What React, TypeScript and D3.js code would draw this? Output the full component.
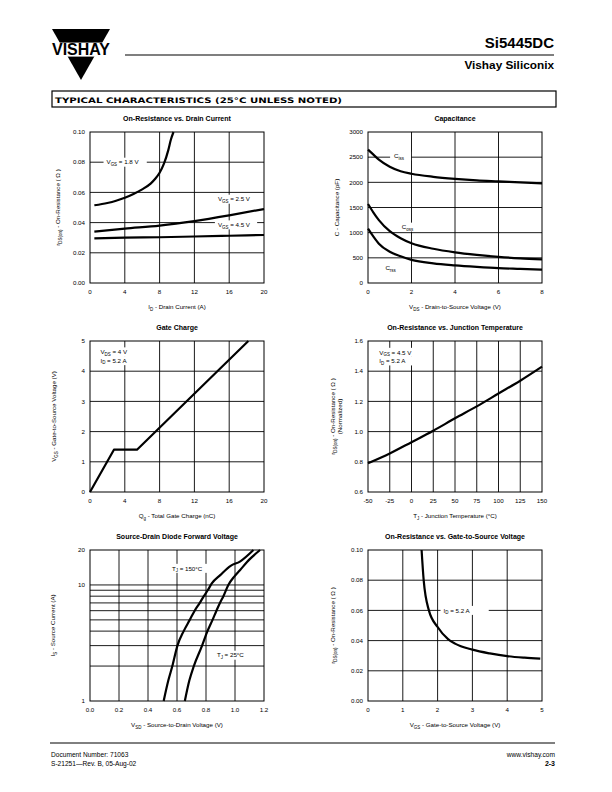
import React from "react";
import * as d3 from "d3";

const FONT = "'Liberation Sans', Arial, Helvetica, sans-serif";

type Pt = [number, number];
type Seg = [string, boolean?];

// ---------- Chart 1: On-Resistance vs. Drain Current ----------
const c1XTicks = [0, 4, 8, 12, 16, 20];
const c1YTicks = [0, 0.02, 0.04, 0.06, 0.08, 0.1];
const c1Vgs18: Pt[] = [[0.5, 0.0515], [2, 0.053], [3, 0.0545], [4, 0.0565], [5, 0.059], [6, 0.062], [7, 0.066], [7.5, 0.069], [8, 0.073], [8.5, 0.079], [9, 0.088], [9.3, 0.095], [9.6, 0.1]];
const c1Vgs25: Pt[] = [[0.5, 0.034], [4, 0.036], [8, 0.038], [12, 0.041], [16, 0.0448], [20, 0.049]];
const c1Vgs45: Pt[] = [[0.5, 0.0295], [4, 0.03], [8, 0.0303], [12, 0.0308], [16, 0.0313], [20, 0.0318]];

// ---------- Chart 2: Capacitance ----------
const c2XTicks = [0, 2, 4, 6, 8];
const c2YTicks = [0, 500, 1000, 1500, 2000, 2500, 3000];
const c2Ciss: Pt[] = [[0, 2650], [0.25, 2550], [0.5, 2450], [1, 2310], [1.5, 2220], [2, 2170], [3, 2110], [4, 2070], [5, 2040], [6, 2020], [7, 2000], [8, 1980]];
const c2Coss: Pt[] = [[0, 1570], [0.25, 1400], [0.5, 1250], [1, 1030], [1.5, 890], [2, 790], [3, 680], [4, 610], [5, 560], [6, 520], [7, 490], [8, 470]];
const c2Crss: Pt[] = [[0, 1080], [0.25, 920], [0.5, 780], [1, 620], [1.5, 530], [2, 460], [3, 390], [4, 350], [5, 320], [6, 295], [7, 280], [8, 265]];

// ---------- Chart 3: Gate Charge ----------
const c3XTicks = [0, 4, 8, 12, 16, 20];
const c3YTicks = [0, 1, 2, 3, 4, 5];
const c3Vgs: Pt[] = [[0, 0], [2.75, 1.4], [5.4, 1.4], [18.2, 5]];

// ---------- Chart 4: On-Resistance vs. Junction Temperature ----------
const c4XTicks = [-50, -25, 0, 25, 50, 75, 100, 125, 150];
const c4YTicks = [0.6, 0.8, 1.0, 1.2, 1.4, 1.6];
const c4Rds: Pt[] = [[-50, 0.79], [-25, 0.855], [0, 0.93], [25, 1.006], [50, 1.088], [75, 1.167], [100, 1.252], [125, 1.337], [150, 1.43]];

// ---------- Chart 5: Source-Drain Diode Forward Voltage ----------
const c5XTicks = [0, 0.2, 0.4, 0.6, 0.8, 1.0, 1.2];
const c5YTicks = [1, 10, 20];
const c5YGrid = [2, 3, 4, 5, 6, 7, 8, 9, 10];
const c5T150: Pt[] = [[0.508, 1], [0.54, 1.5], [0.568, 2], [0.603, 3], [0.646, 4], [0.688, 5], [0.722, 6], [0.757, 7], [0.785, 8], [0.812, 9], [0.84, 10.3], [0.9, 12.2], [0.97, 14.6], [1.034, 15.9], [1.127, 20]];
const c5T25: Pt[] = [[0.654, 1], [0.685, 1.5], [0.716, 2], [0.773, 3], [0.81, 4], [0.845, 5], [0.872, 6], [0.896, 7], [0.92, 8], [0.954, 10], [0.995, 11.8], [1.034, 13.4], [1.1, 16.6], [1.173, 20]];

// ---------- Chart 6: On-Resistance vs. Gate-to-Source Voltage ----------
const c6XTicks = [0, 1, 2, 3, 4, 5];
const c6YTicks = [0, 0.02, 0.04, 0.06, 0.08, 0.1];
const c6Rds: Pt[] = [[1.54, 0.1], [1.6, 0.08], [1.75, 0.06], [2.0, 0.049], [2.3, 0.041], [2.5, 0.038], [3, 0.034], [3.5, 0.0315], [4, 0.0297], [4.5, 0.0287], [4.95, 0.0281]];

interface Ann { x: number; y: number; segs: Seg[]; bg?: boolean; padL?: number; padR?: number; }

interface PanelProps {
  left: number; top: number; w: number; h: number;
  title: string;
  xDomain: [number, number]; yDomain: [number, number]; yLog?: boolean;
  xTicks: number[]; yTicks: number[];
  xFmt: (v: number) => string; yFmt: (v: number) => string;
  xGrid: number[]; yGrid: number[];
  series: Pt[][]; curve?: d3.CurveFactory;
  anns: Ann[];
  xTitle: Seg[]; yTitle: Seg[][]; yTitleOff: number[];
}

const FS = 6.2;

function segWidth(segs: Seg[], fs: number) {
  let w = 0;
  segs.forEach(([t, sub]) => { w += t.length * fs * (sub ? 0.72 : 1) * 0.56; });
  return w;
}

function Rich({ segs, fs }: { segs: Seg[]; fs: number }) {
  let shifted = false;
  return (
    <>
      {segs.map(([t, sub], i) => {
        let dy: number | undefined;
        if (sub && !shifted) { dy = fs * 0.25; shifted = true; }
        else if (!sub && shifted) { dy = -fs * 0.25; shifted = false; }
        return <tspan key={i} dy={dy} fontSize={sub ? fs * 0.72 : fs}>{t}</tspan>;
      })}
    </>
  );
}

function Panel(p: PanelProps) {
  const x = d3.scaleLinear().domain(p.xDomain).range([p.left, p.left + p.w]);
  const y = (p.yLog ? d3.scaleLog() : d3.scaleLinear()).domain(p.yDomain).range([p.top + p.h, p.top]) as d3.ScaleContinuousNumeric<number, number>;
  const line = d3.line<Pt>().x(d => x(d[0])).y(d => y(d[1])).curve(p.curve || d3.curveMonotoneX);
  const bottom = p.top + p.h;
  const cx = p.left + p.w / 2;
  const cy = p.top + p.h / 2;
  return (
    <g fontFamily={FONT}>
      {p.xGrid.map(v => <line key={"gx" + v} x1={x(v)} x2={x(v)} y1={p.top} y2={bottom} stroke="#000" strokeWidth={0.9} />)}
      {p.yGrid.map(v => <line key={"gy" + v} x1={p.left} x2={p.left + p.w} y1={y(v)} y2={y(v)} stroke="#000" strokeWidth={0.9} />)}
      <rect x={p.left} y={p.top} width={p.w} height={p.h} fill="none" stroke="#000" strokeWidth={1} />
      {p.anns.filter(a => a.bg).map((a, i) => {
        const tw = segWidth(a.segs, FS);
        const pl = a.padL ?? 3, pr = a.padR ?? 3;
        return <rect key={"ab" + i} x={x(a.x) - pl} y={y(a.y) - 4.5} width={tw + pl + pr} height={9} fill="#fff" />;
      })}
      {p.series.map((s, i) => <path key={"s" + i} d={line(s) || ""} fill="none" stroke="#000" strokeWidth={2.2} strokeLinejoin="round" />)}
      {p.anns.map((a, i) => (
        <text key={"at" + i} x={x(a.x)} y={y(a.y) + 2.2} fontSize={FS}><Rich segs={a.segs} fs={FS} /></text>
      ))}
      {p.xTicks.map(v => <text key={"xt" + v} x={x(v)} y={bottom + 11.2} fontSize={FS} textAnchor="middle">{p.xFmt(v)}</text>)}
      {p.yTicks.map(v => <text key={"yt" + v} x={p.left - 5} y={y(v) + 2.2} fontSize={FS} textAnchor="end">{p.yFmt(v)}</text>)}
      <text x={cx} y={p.top - 11} fontSize={7} fontWeight="bold" textAnchor="middle">{p.title}</text>
      <text x={cx} y={bottom + 26} fontSize={FS} textAnchor="middle"><Rich segs={p.xTitle} fs={FS} /></text>
      {p.yTitle.map((segs, i) => (
        <text key={"ytt" + i} transform={`translate(${p.left - p.yTitleOff[i]},${cy}) rotate(-90)`} fontSize={FS} textAnchor="middle" y={2.2}>
          <Rich segs={segs} fs={FS} />
        </text>
      ))}
    </g>
  );
}

const f2 = d3.format(".2f");
const f1 = d3.format(".1f");
const f0 = (v: number) => String(v);
const fNeg = (v: number) => (v < 0 ? "-" + Math.abs(v) : String(v));

const rdsTitle: Seg[] = [["r"], ["DS(on)", true], ["  -  On-Resistance ( Ω )"]];

export default function App() {
  const L = 90, R = 368, W = 174, H = 151;
  const T1 = 132, T2 = 341, T3 = 550;
  return (
    <svg width={612} height={792} viewBox="0 0 612 792" style={{ position: "absolute", left: 0, top: 0, background: "#fff" }} fontFamily={FONT}>
      <rect x={0} y={0} width={612} height={792} fill="#fff" />
      {/* Logo */}
      <polygon points="52,29 110,29 81,80" fill="#000" />
      <rect x={48} y={42.6} width={66} height={14} fill="#fff" />
      <text x={52} y={55.3} fontSize={16.5} fontWeight="bold" textLength={58} lengthAdjust="spacingAndGlyphs" fontFamily={FONT}>VISHAY</text>
      {/* Header */}
      <text x={554} y={48} fontSize={15} fontWeight="bold" textAnchor="end">Si5445DC</text>
      <line x1={125} x2={554} y1={55} y2={55} stroke="#000" strokeWidth={1.2} />
      <text x={554} y={69} fontSize={11.8} fontWeight="bold" textAnchor="end">Vishay Siliconix</text>
      <rect x={52} y={91} width={504} height={16} fill="none" stroke="#000" strokeWidth={1.2} />
      <text x={55} y={102.6} fontSize={7.6} fontWeight="bold" fontFamily="'DejaVu Sans', sans-serif" textLength={287} lengthAdjust="spacingAndGlyphs">TYPICAL CHARACTERISTICS (25°C UNLESS NOTED)</text>

      <Panel left={L} top={T1} w={W} h={H} title="On-Resistance vs. Drain Current"
        xDomain={[0, 20]} yDomain={[0, 0.1]} xTicks={c1XTicks} yTicks={c1YTicks} xFmt={f0} yFmt={f2}
        xGrid={[4, 8, 12, 16]} yGrid={[0.02, 0.04, 0.06, 0.08]}
        series={[c1Vgs18, c1Vgs25, c1Vgs45]}
        anns={[
          { x: 1.9, y: 0.08, segs: [["V"], ["GS", true], [" = 1.8 V"]], bg: true, padL: 3, padR: 4 },
          { x: 14.7, y: 0.0555, segs: [["V"], ["GS", true], [" = 2.5 V"]], bg: true },
          { x: 14.7, y: 0.0385, segs: [["V"], ["GS", true], [" = 4.5 V"]], bg: true },
        ]}
        xTitle={[["I"], ["D", true], ["  -  Drain Current (A)"]]} yTitle={[rdsTitle]} yTitleOff={[32]} />

      <Panel left={R} top={T1} w={W} h={H} title="Capacitance"
        xDomain={[0, 8]} yDomain={[0, 3000]} xTicks={c2XTicks} yTicks={c2YTicks} xFmt={f0} yFmt={f0}
        xGrid={[2, 4, 6]} yGrid={[500, 1000, 1500, 2000, 2500]}
        series={[c2Ciss, c2Coss, c2Crss]}
        anns={[
          { x: 1.2, y: 2520, segs: [["C"], ["iss", true]], bg: true, padL: 4, padR: 6 },
          { x: 1.55, y: 1110, segs: [["C"], ["oss", true]], bg: true, padL: 3, padR: 4 },
          { x: 0.8, y: 300, segs: [["C"], ["rss", true]], bg: true },
        ]}
        xTitle={[["V"], ["DS", true], ["  -  Drain-to-Source Voltage (V)"]]} yTitle={[[["C  -  Capacitance (pF)"]]]} yTitleOff={[31]} />

      <Panel left={L} top={T2} w={W} h={H} title="Gate Charge"
        xDomain={[0, 20]} yDomain={[0, 5]} xTicks={c3XTicks} yTicks={c3YTicks} xFmt={f0} yFmt={f0}
        xGrid={[4, 8, 12, 16]} yGrid={[1, 2, 3, 4]}
        series={[c3Vgs]} curve={d3.curveLinear}
        anns={[
          { x: 1.2, y: 4.64, segs: [["V"], ["DS", true], [" = 4 V"]], bg: true },
          { x: 1.2, y: 4.35, segs: [["I"], ["D", true], [" = 5.2 A"]], bg: true },
        ]}
        xTitle={[["Q"], ["g", true], ["  -  Total Gate Charge (nC)"]]} yTitle={[[["V"], ["GS", true], ["  -  Gate-to-Source Voltage (V)"]]]} yTitleOff={[36]} />

      <Panel left={R} top={T2} w={W} h={H} title="On-Resistance vs. Junction Temperature"
        xDomain={[-50, 150]} yDomain={[0.6, 1.6]} xTicks={c4XTicks} yTicks={c4YTicks} xFmt={fNeg} yFmt={f1}
        xGrid={[-25, 0, 25, 50, 75, 100, 125]} yGrid={[0.8, 1.0, 1.2, 1.4]}
        series={[c4Rds]}
        anns={[
          { x: -37, y: 1.525, segs: [["V"], ["GS", true], [" = 4.5 V"]], bg: true },
          { x: -37, y: 1.468, segs: [["I"], ["D", true], [" = 5.2 A"]], bg: true },
        ]}
        xTitle={[["T"], ["J", true], [" - Junction Temperature (°C)"]]}
        yTitle={[rdsTitle, [["(Normalized)"]]]} yTitleOff={[35, 28]} />

      <Panel left={L} top={T3} w={W} h={H} title="Source-Drain Diode Forward Voltage"
        xDomain={[0, 1.2]} yDomain={[1, 20]} yLog xTicks={c5XTicks} yTicks={c5YTicks} xFmt={f1} yFmt={f0}
        xGrid={[0.2, 0.4, 0.6, 0.8, 1.0]} yGrid={c5YGrid}
        series={[c5T150, c5T25]}
        anns={[
          { x: 0.565, y: 13.9, segs: [["T"], ["J", true], [" = 150°C"]], bg: true },
          { x: 0.875, y: 2.48, segs: [["T"], ["J", true], [" = 25°C"]], bg: true },
        ]}
        xTitle={[["V"], ["SD", true], ["  -  Source-to-Drain Voltage (V)"]]} yTitle={[[["I"], ["S", true], ["  -  Source Current (A)"]]]} yTitleOff={[37]} />

      <Panel left={R} top={T3} w={W} h={H} title="On-Resistance vs. Gate-to-Source Voltage"
        xDomain={[0, 5]} yDomain={[0, 0.1]} xTicks={c6XTicks} yTicks={c6YTicks} xFmt={f0} yFmt={f2}
        xGrid={[1, 2, 3, 4]} yGrid={[0.02, 0.04, 0.06, 0.08]}
        series={[c6Rds]}
        anns={[
          { x: 2.17, y: 0.06, segs: [["I"], ["D", true], [" =  5.2 A"]], bg: true, padL: 3, padR: 8 },
        ]}
        xTitle={[["V"], ["GS", true], [" - Gate-to-Source Voltage (V)"]]} yTitle={[rdsTitle]} yTitleOff={[35]} />

      {/* Footer */}
      <line x1={50} x2={555} y1={743} y2={743} stroke="#000" strokeWidth={1} />
      <text x={51} y={757} fontSize={6.6}>Document Number:  71063</text>
      <text x={51} y={765.5} fontSize={6.6}>S-21251—Rev. B, 05-Aug-02</text>
      <text x={555} y={757} fontSize={6.6} textAnchor="end">www.vishay.com</text>
      <text x={555} y={766} fontSize={7} fontWeight="bold" textAnchor="end">2-3</text>
    </svg>
  );
}
